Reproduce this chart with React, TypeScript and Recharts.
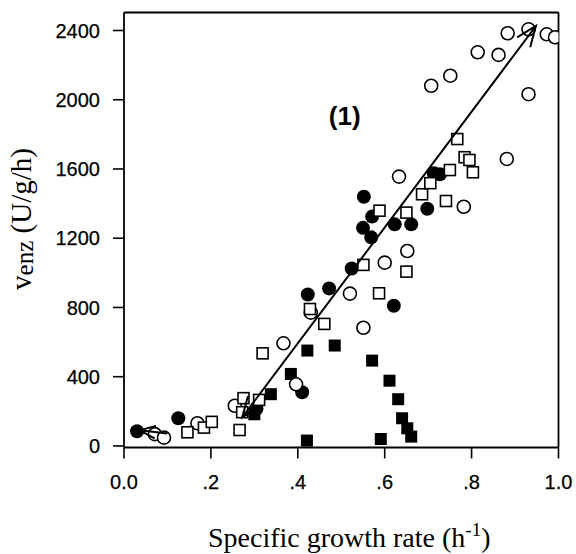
import React from "react";
import { ScatterChart, Scatter, XAxis, YAxis, ReferenceLine, ReferenceDot, Label } from "recharts";

// [growth rate, venz]
const filledCircles = [
  [0.03, 85], [0.125, 160], [0.305, 215], [0.41, 310], [0.423, 875], [0.472, 910],
  [0.524, 1025], [0.55, 1260], [0.552, 1440], [0.569, 1205], [0.571, 1325], [0.621, 810],
  [0.623, 1280], [0.661, 1280], [0.698, 1370], [0.713, 1575], [0.727, 1570],
];
const filledSquares = [
  [0.3, 183], [0.338, 299], [0.384, 416], [0.421, 31], [0.422, 551], [0.485, 580],
  [0.571, 493], [0.591, 40], [0.611, 377], [0.631, 270], [0.64, 160], [0.652, 102], [0.661, 54],
];
const openCircles = [
  [0.071, 68], [0.092, 48], [0.169, 131], [0.255, 232], [0.367, 593], [0.396, 356],
  [0.43, 770], [0.52, 880], [0.551, 683], [0.6, 1059], [0.633, 1556], [0.652, 1126],
  [0.707, 2081], [0.751, 2139], [0.782, 1382], [0.814, 2274], [0.862, 2259], [0.881, 1658],
  [0.883, 2384], [0.931, 2407], [0.931, 2032], [0.973, 2378], [0.992, 2361],
];
const openSquares = [
  [0.146, 79], [0.184, 106], [0.202, 139], [0.266, 92], [0.272, 195], [0.275, 276],
  [0.311, 266], [0.319, 535], [0.428, 791], [0.461, 705], [0.551, 1046], [0.587, 882],
  [0.588, 1359], [0.65, 1007], [0.65, 1348], [0.686, 1454], [0.705, 1518], [0.741, 1415],
  [0.75, 1594], [0.767, 1773], [0.784, 1668], [0.795, 1652], [0.803, 1581],
];

// arrows: [from, to]
const mainArrow = [[0.272, 165], [0.948, 2426]];
const smallArrow = [[0.1, 72], [0.036, 90]];

const xTicks = [0, 0.2, 0.4, 0.6, 0.8, 1];
const yTicks = [0, 400, 800, 1200, 1600, 2000, 2400];
const xDomain = [0, 1];
const yDomain = [-9, 2504];
const panelLabel = { x: 0.508, y: 1906, text: "(1)" };

const toPts = (arr: number[][]) => arr.map(([x, y]) => ({ x, y }));

const SANS = "'Liberation Sans', Arial, Helvetica, sans-serif";
const SERIF = "'Liberation Serif', 'Times New Roman', serif";

const FilledCircle = (p: any) => <circle cx={p.cx} cy={p.cy} r={7} fill="#000" />;
const OpenCircle = (p: any) => (
  <circle cx={p.cx} cy={p.cy} r={6.5} fill="#fff" stroke="#000" strokeWidth={1.6} />
);
const FilledSquare = (p: any) => <rect x={p.cx - 6} y={p.cy - 6} width={12} height={12} fill="#000" />;
const OpenSquare = (p: any) => (
  <rect x={p.cx - 5.5} y={p.cy - 5.5} width={11} height={11} fill="#fff" stroke="#000" strokeWidth={1.6} />
);
const NoDot = () => <g />;

function head(tx: number, ty: number, fx: number, fy: number, len: number) {
  const a = Math.atan2(ty - fy, tx - fx);
  const s = 0.38;
  return `M${tx - len * Math.cos(a - s)},${ty - len * Math.sin(a - s)} L${tx},${ty} L${tx - len * Math.cos(a + s)},${ty - len * Math.sin(a + s)}`;
}

// draws the scatter's connecting line as an arrow
const arrowLine = (both: boolean, len: number) => (p: any) => {
  const pts = p.points || [];
  if (pts.length < 2) return <g />;
  const [a, b] = pts;
  let d = `M${a.x},${a.y} L${b.x},${b.y} ` + head(b.x, b.y, a.x, a.y, len);
  if (both) d += " " + head(a.x, a.y, b.x, b.y, len);
  return <path d={d} fill="none" stroke="#000" strokeWidth={2} strokeLinejoin="miter" />;
};

const XTitle = (props: any) => {
  const vb = props.viewBox;
  return (
    <text x={vb.x + vb.width / 2 + 8} y={vb.y + 99} textAnchor="middle" fontFamily={SERIF} fontSize={28} fill="#000">
      Specific growth rate (h<tspan fontSize={19} dy={-11}>-1</tspan><tspan dy={11}>)</tspan>
    </text>
  );
};

const YTitle = (props: any) => {
  const vb = props.viewBox;
  const cy = vb.y + vb.height / 2 - 11;
  return (
    <text transform={`translate(31,${cy}) rotate(-90)`} textAnchor="middle" fontFamily={SERIF} fontSize={29} fill="#000">
      v<tspan fontSize={25} dy={2}>enz</tspan><tspan dy={-2}> (U/g/h)</tspan>
    </text>
  );
};

const PanelText = (props: any) => {
  const vb = props.viewBox;
  return (
    <text x={vb.x} y={vb.y} dy={9} textAnchor="middle" fontFamily={SANS} fontWeight="bold" fontSize={26} fill="#000">
      {panelLabel.text}
    </text>
  );
};

const fmtX = (v: number) => (v === 0 ? "0.0" : v === 1 ? "1.0" : v.toFixed(1).replace(/^0/, ""));

export default function App() {
  const tick = { fontSize: 20, fill: "#000", fontFamily: SANS, stroke: "#000", strokeWidth: 0.25 };
  return (
    <div style={{ position: "absolute", left: 0, top: 0, width: 576, height: 554, background: "#fff" }}>
      <ScatterChart width={576} height={554} margin={{ top: 12.5, right: 17.5, bottom: 46.5, left: 0 }}>
        <XAxis
          type="number"
          dataKey="x"
          domain={xDomain}
          ticks={xTicks}
          tickFormatter={fmtX}
          allowDataOverflow
          height={60}
          tickSize={11}
          tickMargin={16}
          tick={tick}
          axisLine={{ stroke: "#000", strokeWidth: 1.8 }}
          tickLine={{ stroke: "#000", strokeWidth: 1.6 }}
        >
          <Label content={XTitle} />
        </XAxis>
        <YAxis
          type="number"
          dataKey="y"
          domain={yDomain}
          ticks={yTicks}
          allowDataOverflow
          width={124}
          tickSize={11}
          tickMargin={13}
          tick={tick}
          axisLine={{ stroke: "#000", strokeWidth: 1.8 }}
          tickLine={{ stroke: "#000", strokeWidth: 1.6 }}
        >
          <Label content={YTitle} />
        </YAxis>
        <ReferenceLine y={yDomain[1]} stroke="#000" strokeWidth={1.8} />
        <ReferenceLine x={xDomain[1]} stroke="#000" strokeWidth={1.8} />
        <Scatter data={toPts(filledCircles)} shape={FilledCircle} isAnimationActive={false} />
        <Scatter data={toPts(filledSquares)} shape={FilledSquare} isAnimationActive={false} />
        <Scatter data={toPts(openCircles)} shape={OpenCircle} isAnimationActive={false} />
        <Scatter data={toPts(openSquares)} shape={OpenSquare} isAnimationActive={false} />
        <Scatter data={toPts(mainArrow)} shape={NoDot} line={arrowLine(true, 22)} isAnimationActive={false} />
        <Scatter data={toPts(smallArrow)} shape={NoDot} line={arrowLine(false, 17)} isAnimationActive={false} />
        <ReferenceDot x={panelLabel.x} y={panelLabel.y} r={0} fill="none" stroke="none" label={<Label content={PanelText} />} />
      </ScatterChart>
    </div>
  );
}
